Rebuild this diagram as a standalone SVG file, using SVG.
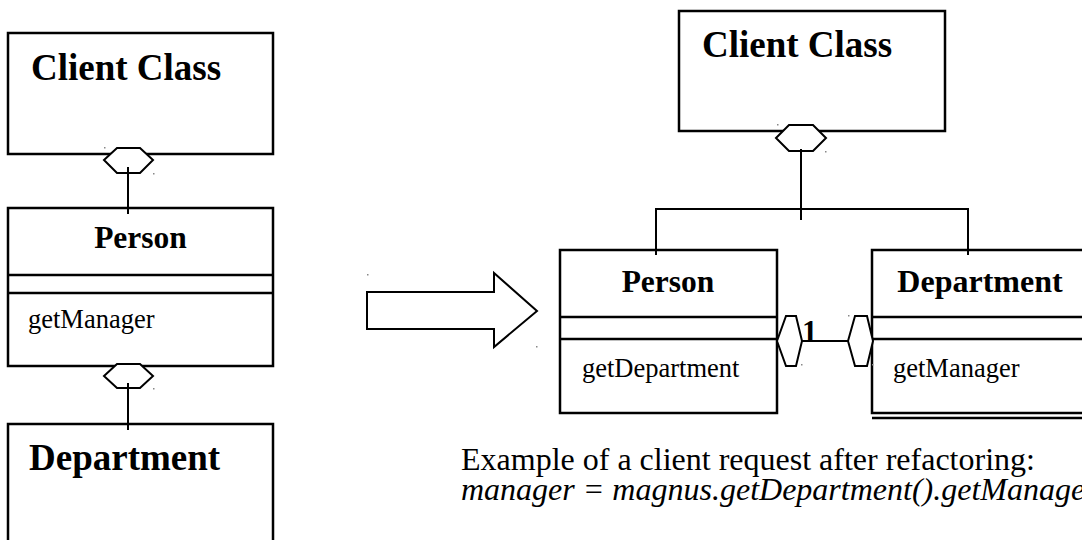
<svg xmlns="http://www.w3.org/2000/svg" width="1082" height="540" viewBox="0 0 1082 540">
<style>
.box{fill:#fff;stroke:#000;stroke-width:2.5}
.ln{fill:none;stroke:#000;stroke-width:2.5}
.hex{fill:#fff;stroke:#000;stroke-width:2}
.con{fill:none;stroke:#000;stroke-width:2}
.title{font-family:"Liberation Serif","Times New Roman",serif;font-weight:bold;fill:#000}
.op{font-family:"Liberation Serif","Times New Roman",serif;font-size:26.5px;fill:#000}
.note{font-family:"Liberation Serif","Times New Roman",serif;font-size:32px;fill:#000}
.dot{fill:#888}
</style>
<rect width="1082" height="540" fill="#fff"/>

<g id="left-client">
<rect class="box" x="8" y="33" width="265" height="121"/>
<text class="title" x="31" y="80" font-size="37">Client Class</text>
</g>
<g id="left-person">
<rect class="box" x="8" y="208" width="265" height="158"/>
<line class="ln" x1="8" y1="275" x2="273" y2="275"/>
<line class="ln" x1="8" y1="293" x2="273" y2="293"/>
<text class="title" x="140.5" y="248" font-size="31.5" text-anchor="middle">Person</text>
<text class="op" x="28" y="328">getManager</text>
</g>
<g id="left-department">
<rect class="box" x="8" y="424" width="265" height="130"/>
<text class="title" x="29" y="470" font-size="37">Department</text>
</g>

<g id="right-client">
<rect class="box" x="679" y="11" width="266" height="120"/>
<text class="title" x="702" y="57" font-size="37">Client Class</text>
</g>
<g id="right-person">
<rect class="box" x="560" y="250" width="217" height="163"/>
<line class="ln" x1="560" y1="317" x2="777" y2="317"/>
<line class="ln" x1="560" y1="339" x2="777" y2="339"/>
<text class="title" x="668" y="292" font-size="31.5" text-anchor="middle">Person</text>
<text class="op" x="582" y="377">getDepartment</text>
</g>
<g id="right-department">
<rect class="box" x="872" y="250" width="230" height="163"/>
<line class="ln" x1="872" y1="317" x2="1090" y2="317"/>
<line class="ln" x1="872" y1="339" x2="1090" y2="339"/>
<line class="ln" x1="872" y1="418" x2="1090" y2="418"/>
<text class="title" x="980" y="292" font-size="32" text-anchor="middle">Department</text>
<text class="op" x="893" y="377">getManager</text>
</g>

<g id="connectors">
<polygon class="hex" points="104,160 117,148 140,148 153,160 140,173 117,173"/>
<polygon class="hex" points="104,376 117,364 140,364 153,376 140,388 117,388"/>
<polygon class="hex" points="776,138 789,125 813,125 826,138 813,151 789,151"/>
<polygon class="hex" points="777,341 786,316 796,316 802,341 796,366 786,366"/>
<polygon class="hex" points="848,341 855,316 867,316 873,341 867,366 855,366"/>
<line class="con" x1="128" y1="167" x2="128" y2="214"/>
<line class="con" x1="128" y1="383" x2="128" y2="430"/>
<line class="con" x1="801" y1="149" x2="801" y2="220"/>
<polyline class="con" points="656,255 656,209 968,209 968,255"/>
<line class="con" x1="802" y1="341" x2="848" y2="341"/>
<text class="title" x="802" y="342" font-size="31">1</text>
</g>

<g id="arrow">
<polygon fill="#fff" stroke="#000" stroke-width="2" points="367,292 494,292 494,273 537,311 494,347 494,329 367,329"/>
</g>

<g id="note">
<text class="note" x="461" y="470">Example of a client request after refactoring:<tspan x="461" y="500" font-style="italic">manager = magnus.getDepartment().getManager();</tspan></text>
</g>

<g id="marks">
<rect class="dot" x="104" y="147" width="1.5" height="1.5"/>
<rect class="dot" x="153" y="173" width="1.5" height="1.5"/>
<rect class="dot" x="153" y="388" width="1.5" height="1.5"/>
<rect class="dot" x="777" y="124" width="1.5" height="1.5"/>
<rect class="dot" x="825" y="151" width="1.5" height="1.5"/>
<rect class="dot" x="367" y="274" width="1.5" height="1.5"/>
<rect class="dot" x="536" y="346" width="1.5" height="1.5"/>
<rect class="dot" x="801" y="364" width="1.5" height="1.5"/>
<rect class="dot" x="848" y="315" width="1.5" height="1.5"/>
<rect class="dot" x="872" y="364" width="1.5" height="1.5"/>
</g>
</svg>
